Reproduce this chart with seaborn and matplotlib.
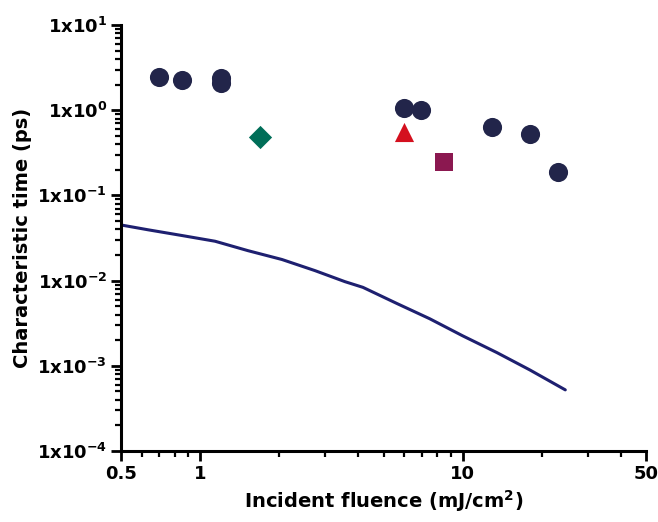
import matplotlib
matplotlib.use("Agg")
import matplotlib.pyplot as plt
import matplotlib.ticker as mticker
import numpy as np
import pandas as pd
import seaborn as sns

# ---- data ----
circle_fluence = [0.70, 0.855, 1.20, 1.20, 5.97, 6.92, 12.9, 18.0, 23.0]
circle_time = [2.45, 2.25, 2.40, 2.08, 1.06, 1.00, 0.63, 0.52, 0.19]
diamond_fluence = [1.69]
diamond_time = [0.48]
triangle_fluence = [5.97]
triangle_time = [0.56]
square_fluence = [8.47]
square_time = [0.25]

curve_fluence = [0.50, 0.634, 0.855, 1.14, 1.52, 2.05, 2.74, 3.56, 4.17, 5.61,
                 7.49, 10.0, 13.5, 18.0, 24.6]
curve_time = [0.0450, 0.0395, 0.0338, 0.0290, 0.0225, 0.0177, 0.0131, 0.00973,
              0.00834, 0.0054, 0.00357, 0.00225, 0.00143, 0.000897, 0.000522]

x_ticks = [0.5, 1, 10, 50]
x_tick_labels = ["0.5", "1", "10", "50"]
y_exponents = [-4, -3, -2, -1, 0, 1]

sns.set_theme(style="ticks")
plt.rcParams["font.family"] = ["DejaVu Sans"]
plt.rcParams["mathtext.default"] = "bf"
plt.rcParams["text.color"] = "black"
plt.rcParams["axes.labelcolor"] = "black"

pts = pd.DataFrame({
    "fluence": circle_fluence + diamond_fluence + triangle_fluence + square_fluence,
    "time": circle_time + diamond_time + triangle_time + square_time,
    "group": (["circle"] * len(circle_fluence) + ["diamond"] * len(diamond_fluence)
              + ["triangle"] * len(triangle_fluence) + ["square"] * len(square_fluence)),
})
curve = pd.DataFrame({"fluence": curve_fluence, "time": curve_time})

palette = {"circle": "#22254a", "diamond": "#006e58", "triangle": "#d4101e", "square": "#8b1850"}
markers = {"circle": "o", "diamond": "D", "triangle": "^", "square": "s"}
sizes = {"circle": 190, "diamond": 140, "triangle": 190, "square": 150}

fig = plt.figure(figsize=(6.58, 5.22), dpi=100)
ax = fig.add_axes([0.184, 0.136, 0.798, 0.816])

sns.lineplot(data=curve, x="fluence", y="time", ax=ax, color="#1e2070",
             linewidth=2.2, legend=False)
for g, sub in pts.groupby("group"):
    sns.scatterplot(data=sub, x="fluence", y="time", ax=ax, color=palette[g],
                    marker=markers[g], s=sizes[g], linewidth=0, legend=False, zorder=3)

ax.set_xscale("log")
ax.set_yscale("log")
ax.set_xlim(0.5, 50)
ax.set_ylim(1e-4, 1e1)

ax.xaxis.set_major_locator(mticker.FixedLocator(x_ticks))
ax.xaxis.set_major_formatter(mticker.FixedFormatter(x_tick_labels))
ax.xaxis.set_minor_locator(mticker.LogLocator(base=10, subs=np.arange(2, 10)))
ax.xaxis.set_minor_formatter(mticker.NullFormatter())

ax.yaxis.set_major_locator(mticker.FixedLocator([10.0 ** e for e in y_exponents]))
ax.yaxis.set_major_formatter(mticker.FixedFormatter(
    [r"1x10$^{%d}$" % e for e in y_exponents]))
ax.yaxis.set_minor_locator(mticker.LogLocator(base=10, subs=np.arange(2, 10)))
ax.yaxis.set_minor_formatter(mticker.NullFormatter())

for s in ["top", "right"]:
    ax.spines[s].set_visible(False)
for s in ["left", "bottom"]:
    ax.spines[s].set_linewidth(2.2)
    ax.spines[s].set_color("black")

ax.tick_params(which="major", length=7, width=2, direction="out", colors="black",
               labelcolor="black", labelsize=13, pad=3)
ax.tick_params(which="minor", length=4, width=1.6, direction="out", colors="black")
for lbl in ax.get_xticklabels() + ax.get_yticklabels():
    lbl.set_fontweight("bold")

ax.set_xlabel("Incident fluence (mJ/cm$^2$)", fontsize=14, fontweight="bold",
              labelpad=4, color="black")
ax.set_ylabel("Characteristic time (ps)", fontsize=14, fontweight="bold",
              labelpad=4, color="black")
ax.grid(False)

fig.savefig("out.png", dpi=100)
